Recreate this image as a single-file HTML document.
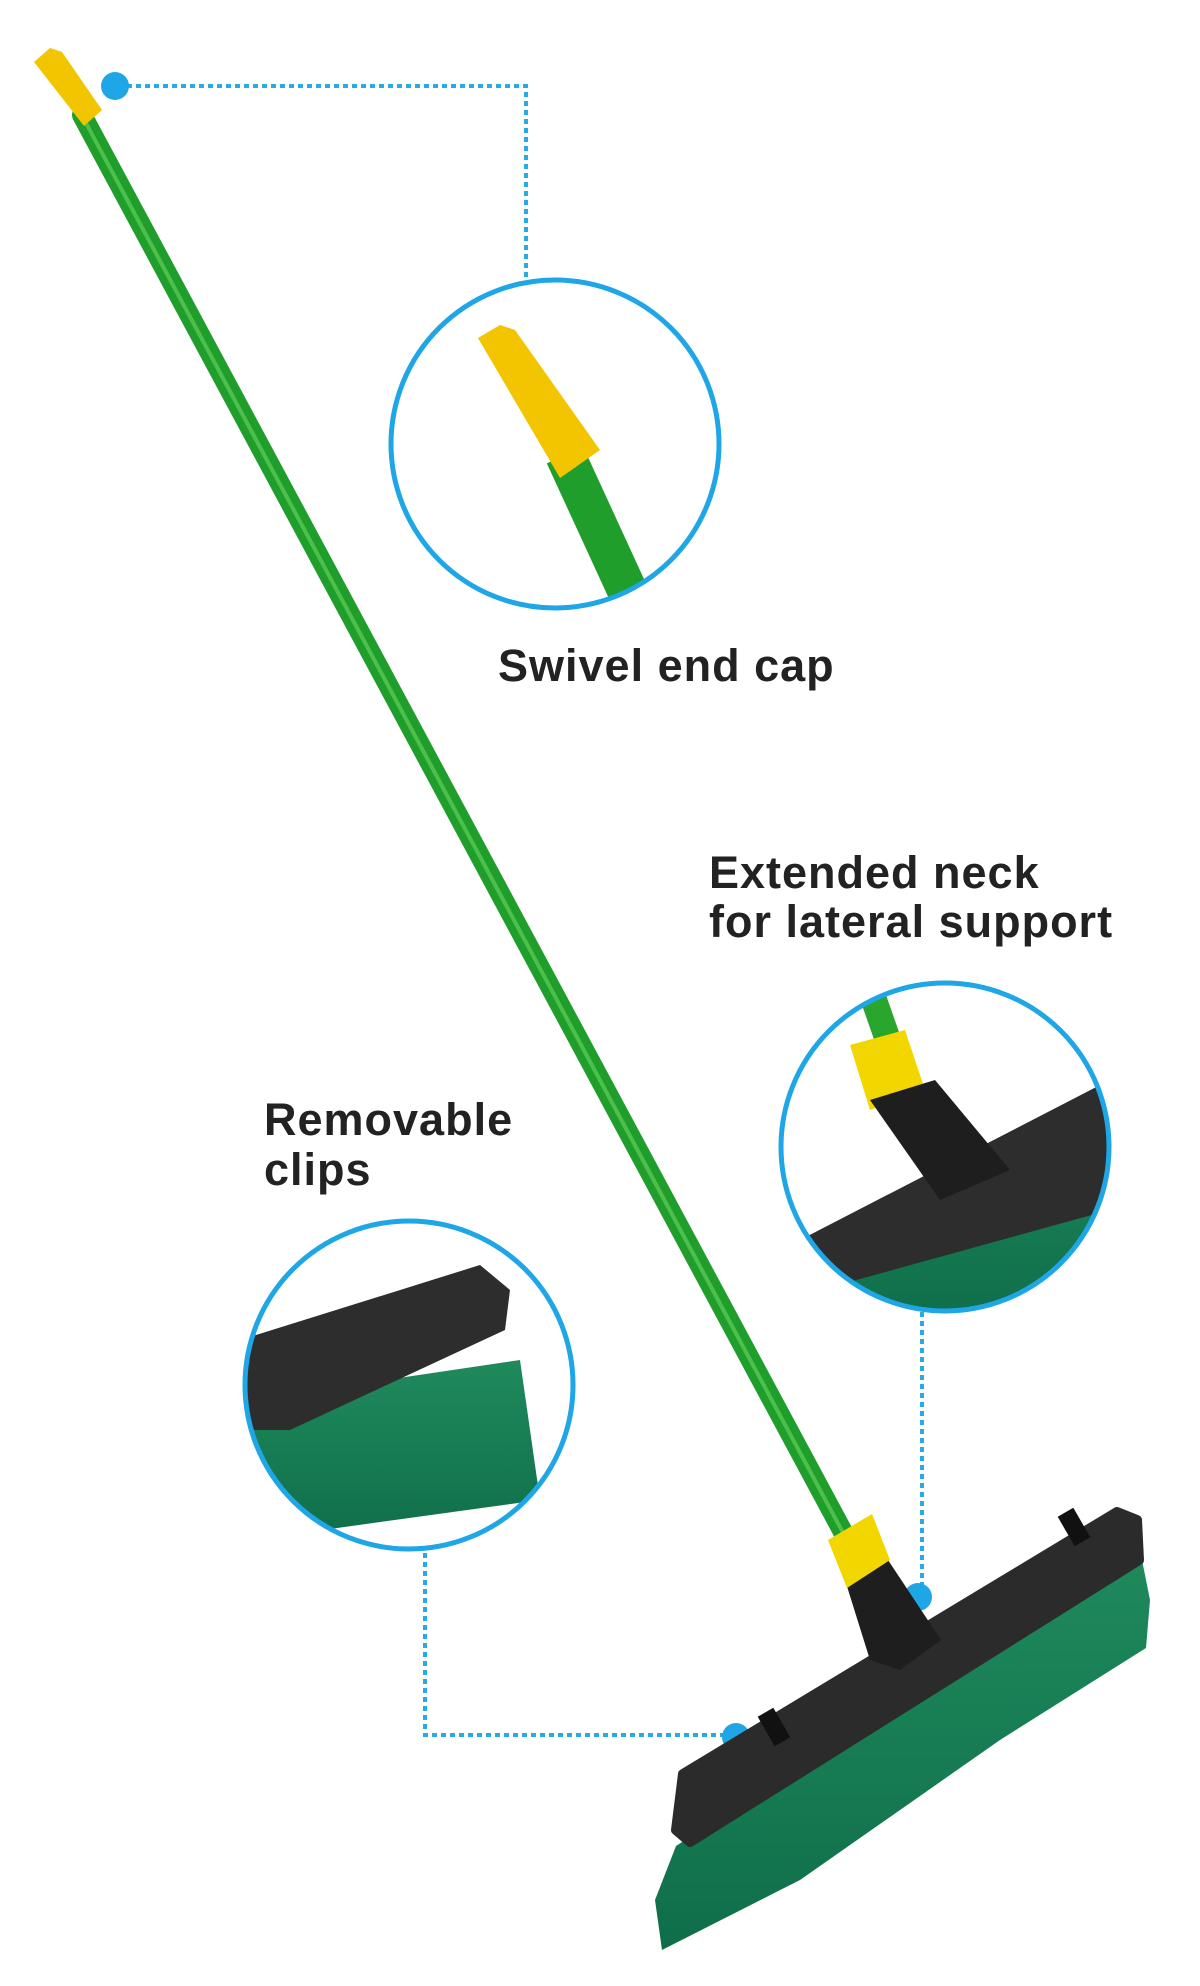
<!DOCTYPE html>
<html><head><meta charset="utf-8"><style>
html,body{margin:0;padding:0;background:#fff}
svg{display:block}
text{font-family:"Liberation Sans",sans-serif;font-weight:bold;fill:#222}
</style></head><body>
<svg width="1200" height="1986" viewBox="0 0 1200 1986" xmlns="http://www.w3.org/2000/svg">
<defs>
<clipPath id="c1"><circle cx="555" cy="444" r="164"/></clipPath>
<clipPath id="c2"><circle cx="945" cy="1147" r="164"/></clipPath>
<clipPath id="c3"><circle cx="409" cy="1385" r="164"/></clipPath>
<linearGradient id="br" x1="0" y1="0" x2="0" y2="1"><stop offset="0" stop-color="#1f8a5c"/><stop offset="1" stop-color="#0f6e4a"/></linearGradient>
</defs>
<g stroke="#29abe2" stroke-width="4" stroke-dasharray="5 4" fill="none">
<polyline points="118,86 526,86 526,278"/>
<polyline points="922,1312 922,1595"/>
<polyline points="425,1553 425,1735 735,1735"/>
</g>
<g fill="#1ea6e6">
<circle cx="115" cy="86" r="14"/>
<circle cx="918" cy="1597" r="14"/>
<circle cx="736" cy="1737" r="14"/>
</g>
<line x1="82" y1="115" x2="850" y2="1545" stroke="#1f9e2c" stroke-width="20" stroke-linecap="round"/>
<line x1="80" y1="112" x2="848" y2="1542" stroke="#4cc04a" stroke-width="4"/>
<polygon points="34,62 50,48 62,52 102,110 84,126" fill="#f2c500"/>
<polygon points="676,1846 1139,1545 1150,1600 1146,1648 1000,1740 800,1880 662,1950 655,1900" fill="url(#br)"/>
<polygon points="683,1774 1117,1512 1137,1520 1139,1560 690,1842 676,1830" fill="#2b2b2b" stroke="#2b2b2b" stroke-width="10" stroke-linejoin="round"/>
<polygon points="845,1580 888,1560 941,1640 900,1670 870,1660" fill="#1e1e1e"/>
<polygon points="828,1540 872,1514 890,1560 847,1588" fill="#f2d600"/>
<rect x="765" y="1710" width="18" height="34" fill="#111" transform="rotate(-30 774 1727)"/>
<rect x="1065" y="1510" width="18" height="34" fill="#111" transform="rotate(-30 1074 1527)"/>
<g clip-path="url(#c1)">
<rect x="380" y="270" width="350" height="350" fill="#fff"/>
<line x1="565" y1="455" x2="650" y2="640" stroke="#1f9e2c" stroke-width="40"/>
<polygon points="478,338 500,325 515,330 600,450 560,478" fill="#f2c500"/>
</g>
<circle cx="555" cy="444" r="164" fill="none" stroke="#1ea6e6" stroke-width="5"/>
<g clip-path="url(#c2)">
<line x1="860" y1="960" x2="895" y2="1060" stroke="#2aa52e" stroke-width="26"/>
<polygon points="850,1045 905,1030 925,1090 870,1110" fill="#f2d600"/>
<polygon points="820,1230 1110,1080 1120,1300 820,1320" fill="url(#br)"/>
<polygon points="800,1240 1110,1080 1110,1210 820,1290" fill="#2d2d2d"/>
<polygon points="870,1100 935,1080 1010,1170 940,1200" fill="#1e1e1e"/>
</g>
<circle cx="945" cy="1147" r="164" fill="none" stroke="#1ea6e6" stroke-width="5"/>
<g clip-path="url(#c3)">
<polygon points="250,1400 520,1360 540,1500 250,1540" fill="url(#br)"/>
<polygon points="240,1340 480,1265 510,1290 505,1330 290,1430 250,1430" fill="#2d2d2d"/>
</g>
<circle cx="409" cy="1385" r="164" fill="none" stroke="#1ea6e6" stroke-width="5"/>
<text x="498" y="681" font-size="45" letter-spacing="1">Swivel end cap</text>
<text x="709" y="888" font-size="45" letter-spacing="1">Extended neck</text>
<text x="709" y="937" font-size="45" letter-spacing="1">for lateral support</text>
<text x="264" y="1135" font-size="45" letter-spacing="1">Removable</text>
<text x="264" y="1185" font-size="45" letter-spacing="1">clips</text>
</svg>
</body></html>
